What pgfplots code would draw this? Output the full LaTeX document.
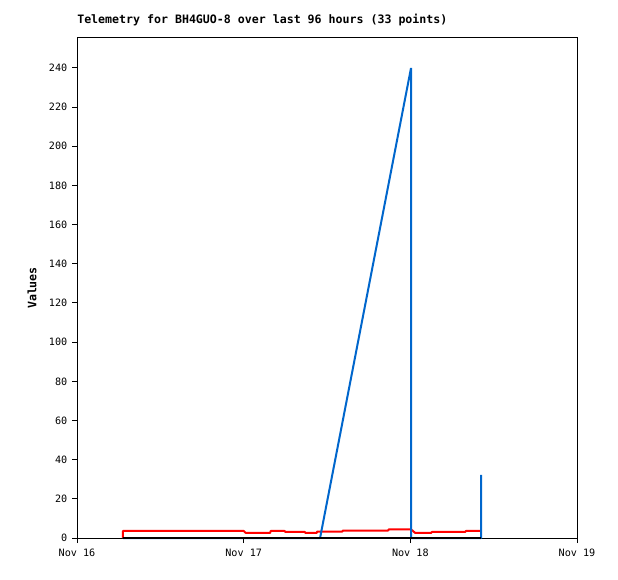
\documentclass[border=0pt]{standalone}
\usepackage{fontspec}
\setmainfont{DejaVu Sans Mono}
\setmonofont{DejaVu Sans Mono}
\usepackage{pgfplots}
\pgfplotsset{compat=1.18}
\definecolor{tlblue}{HTML}{0066CC}
\definecolor{tlred}{HTML}{FF0000}

\begin{document}
\begin{tikzpicture}
\begin{axis}[
    name=ax,
    scale only axis,
    width=375pt, height=375pt,
    xmin=0, xmax=72,
    ymin=0, ymax=255.3,
    xtick={0,24,48,72},
    xticklabels={Nov 16,Nov 17,Nov 18,Nov 19},
    ytick={0,20,...,240},
    tick align=outside,
    xtick pos=bottom, ytick pos=left,
    major tick length=3.75pt,
    tick style={black, line width=0.75pt},
    axis line style={line width=0.75pt},
    every axis plot/.append style={line width=1.5pt, mark=none, line join=bevel},
    tick label style={font=\fontsize{7.6}{9}\selectfont},
    /pgf/number format/assume math mode=true,
    xticklabel style={yshift=-1pt},
    title={\textbf{Telemetry for BH4GUO-8 over last 96 hours (33 points)}},
    title style={at={(axis description cs:0,1)}, anchor=south west, inner sep=0pt, yshift=2.5pt, font=\fontsize{8.7}{10}\selectfont},
    ylabel={\textbf{Values}},
    ylabel style={at={(axis description cs:-0.09,0.5)}, anchor=center, font=\fontsize{8.7}{10}\selectfont},
    clip=false,
]
% red series
\addplot[tlred] coordinates {
(6.62,0) (6.62,3.6) (24.0,3.6) (24.3,2.6) (27.8,2.6) (27.9,3.6) (29.9,3.6) (30.0,3.1)
(32.8,3.1) (32.9,2.6) (34.5,2.6) (34.6,3.3) (38.2,3.3) (38.3,3.8) (44.8,3.8) (44.9,4.4)
(48.1,4.4) (48.7,2.6) (51.0,2.6) (51.1,3.1) (55.9,3.1) (56.0,3.6) (58.2,3.6)
};
% blue series
\addplot[tlblue] coordinates {
(6.62,0) (35.0,0) (48.1,240) (48.1,0) (58.2,0) (58.2,32.2)
};
% black series
\addplot[black] coordinates {
(6.62,0) (58.2,0)
};
\end{axis}
\pgfresetboundingbox
\path ([shift={(-57.75pt,-30.75pt)}]ax.south west) rectangle ([shift={(30.75pt,28.5pt)}]ax.north east);
\end{tikzpicture}
\end{document}
